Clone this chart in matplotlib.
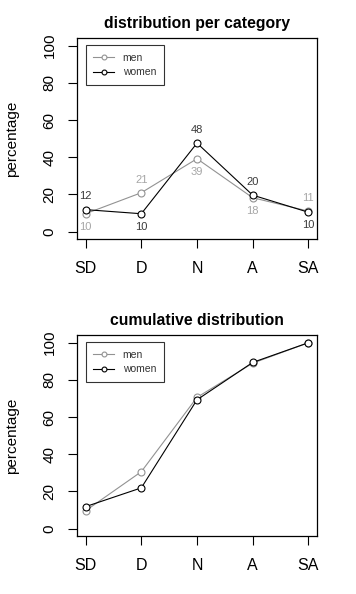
import numpy as np
import matplotlib
matplotlib.use('Agg')
import matplotlib.pyplot as plt

plt.rcParams['font.family'] = ['Liberation Sans', 'DejaVu Sans']

# Data
categories = ['SD', 'D', 'N', 'A', 'SA']
men_pct = [9.6, 20.9, 39.2, 18.2, 11.0]
women_pct = [11.8, 9.6, 47.6, 19.6, 10.4]
men_labels = [10, 21, 39, 18, 11]
women_labels = [12, 10, 48, 20, 10]
men_cum = [9.6, 30.6, 70.6, 89.0, 100.0]
women_cum = [11.8, 21.9, 69.3, 89.4, 100.0]

MEN_COLOR = '#929292'
WOMEN_COLOR = '#000000'
MEN_TEXT = '#a6a6a6'
WOMEN_TEXT = '#3a3a3a'

x = np.arange(1, len(categories) + 1)

fig = plt.figure(figsize=(3.56, 5.94), dpi=100)
ax_w = 240.6 / 356
ax_h = 200.7 / 594
ax1 = fig.add_axes([76.7 / 356, (594 - 239) / 594, ax_w, ax_h])
ax2 = fig.add_axes([76.7 / 356, (594 - 536) / 594, ax_w, ax_h])


def style_axes(ax, title):
    ax.set_xlim(0.84, 5.16)
    ax.set_ylim(-4, 104)
    ax.set_xticks(x)
    ax.set_xticklabels(categories, fontsize=11.5)
    ax.set_yticks([0, 20, 40, 60, 80, 100])
    ax.set_yticklabels(['0', '20', '40', '60', '80', '100'], fontsize=11,
                       rotation=90, va='center')
    ax.tick_params(axis='x', length=6.5, width=0.8, pad=9)
    ax.tick_params(axis='y', length=6.5, width=0.8, pad=8)
    for s in ax.spines.values():
        s.set_linewidth(0.9)
    ax.set_title(title, fontsize=11.3, fontweight='bold', pad=7.5)
    ax.set_ylabel('percentage', fontsize=11)
    ax.yaxis.set_label_coords(-0.24, 0.5)
    leg = ax.legend(loc='upper left', bbox_to_anchor=(0.037, 0.965),
                    borderaxespad=0, fontsize=7.5, frameon=True, fancybox=False,
                    handlelength=2.0, handletextpad=0.8, borderpad=0.75,
                    labelspacing=0.4, markerscale=0.7, labelcolor='#333333')
    leg.get_frame().set_edgecolor('black')
    leg.get_frame().set_linewidth(0.8)


def plot_series(ax, men, women):
    ax.plot(x, men, '-o', color=MEN_COLOR, lw=0.8, ms=5, mfc='white',
            mec=MEN_COLOR, mew=0.8, label='men')
    ax.plot(x, women, '-o', color=WOMEN_COLOR, lw=0.8, ms=5, mfc='white',
            mec=WOMEN_COLOR, mew=0.8, label='women')


# top panel
plot_series(ax1, men_pct, women_pct)
for xi, m, w, ml, wl in zip(x, men_pct, women_pct, men_labels, women_labels):
    m_off = 9.5 if m > w else -9.5
    w_off = -m_off
    ax1.annotate(str(ml), (xi, m), xytext=(0, m_off), textcoords='offset points',
                 ha='center', va='center', fontsize=8, color=MEN_TEXT)
    ax1.annotate(str(wl), (xi, w), xytext=(0, w_off), textcoords='offset points',
                 ha='center', va='center', fontsize=8, color=WOMEN_TEXT)
style_axes(ax1, 'distribution per category')

# bottom panel
plot_series(ax2, men_cum, women_cum)
style_axes(ax2, 'cumulative distribution')

fig.savefig('out.png', dpi=100)
